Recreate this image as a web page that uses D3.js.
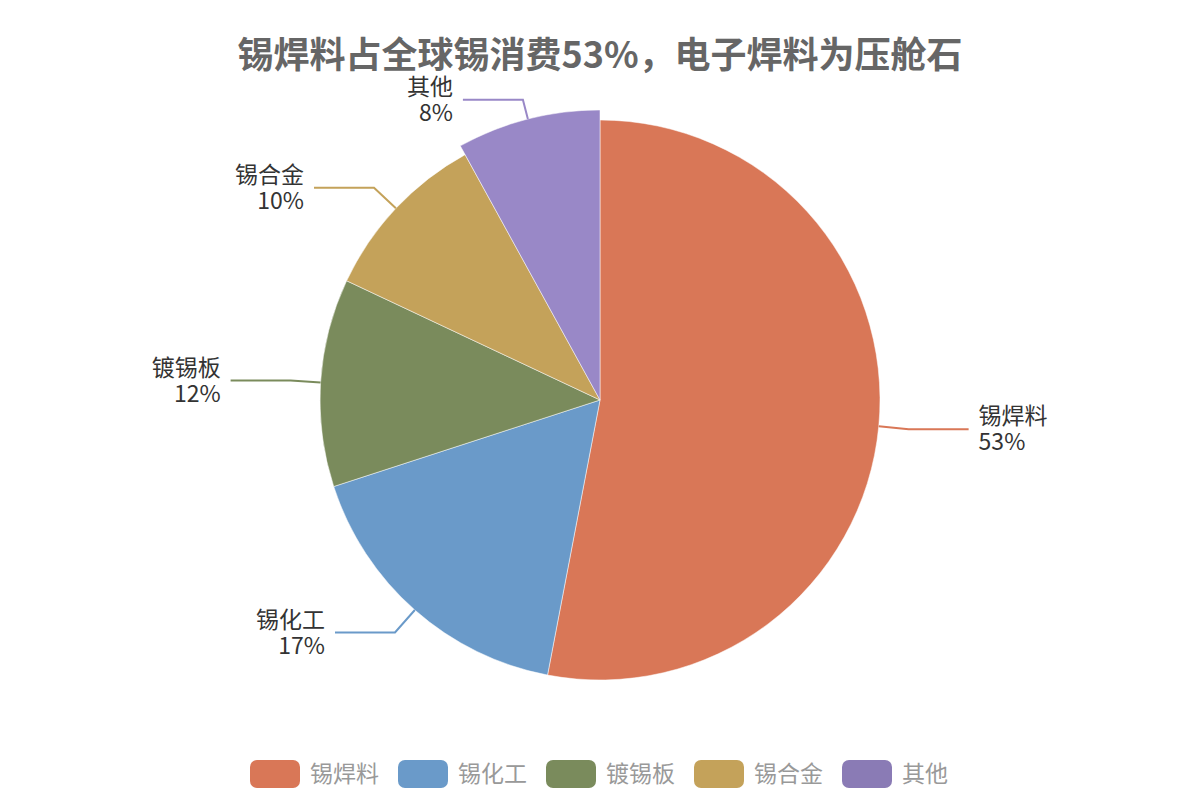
<!DOCTYPE html>
<html><head><meta charset="utf-8">
<script src="https://cdn.jsdelivr.net/npm/d3@7/dist/d3.min.js"></script>
<style>body{margin:0;background:#fff;}svg{display:block;font-family:"Microsoft YaHei","Noto Sans CJK SC",sans-serif;}</style>
</head><body>
<svg id="c" width="1200" height="800"></svg>
<script>
const title = "锡焊料占全球锡消费53%，电子焊料为压舱石";
const categories = ["锡焊料","锡化工","镀锡板","锡合金","其他"];
const values = [53,17,12,10,8];
const colors = ["#d97757","#6a9ac9","#7a8b5c","#c4a25a","#8a7bb5"];
const highlighted = "其他";
const highlightColor = "#9988c7";

const svg = d3.select("#c");
const cx = 600, cy = 400, R = 280;
const g = svg.append("g").attr("transform",`translate(${cx},${cy})`);

svg.append("text").attr("x",600).attr("y",68).attr("text-anchor","middle")
  .attr("font-size",36).attr("font-weight","bold").attr("fill","#666").text(title);

const data = categories.map((c,i)=>({name:c,value:values[i],color:colors[i]}));
const pie = d3.pie().value(d=>d.value).sort(null);
const arcs = pie(data);
const total = d3.sum(values);

g.selectAll("path.s").data(arcs).join("path").attr("class","s")
  .attr("d",d=>d3.arc().innerRadius(0).outerRadius(d.data.name===highlighted?R+10:R)(d))
  .attr("fill",d=>d.data.name===highlighted?highlightColor:d.data.color)
  .attr("stroke","#fff").attr("stroke-width",0.5);

arcs.forEach(d=>{
  const a = (d.startAngle+d.endAngle)/2;
  const r0 = d.data.name===highlighted?R+10:R;
  const sx = Math.sin(a), sy = -Math.cos(a);
  const p0 = [r0*sx, r0*sy];
  const p1 = [(R+30)*sx, (R+30)*sy];
  const dir = sx>=0?1:-1;
  const p2 = [p1[0]+dir*60, p1[1]];
  g.append("path").attr("d",d3.line()([p0,p1,p2])).attr("fill","none")
    .attr("stroke",d.data.name===highlighted?highlightColor:d.data.color).attr("stroke-width",2);
  const x = p2[0]+dir*10;
  const anchor = dir>0?"start":"end";
  g.append("text").attr("x",x).attr("y",p2[1]-5).attr("text-anchor",anchor)
    .attr("font-size",23).attr("fill","#333").text(d.data.name);
  g.append("text").attr("x",x).attr("y",p2[1]+21).attr("text-anchor",anchor)
    .attr("font-size",23).attr("fill","#333").text(Math.round(d.data.value/total*100)+"%");
});

const lg = svg.append("g");
data.forEach((d,i)=>{
  const x = 250 + i*148;
  lg.append("rect").attr("x",x).attr("y",760).attr("width",50).attr("height",28).attr("rx",7)
    .attr("fill",d.color);
  lg.append("text").attr("x",x+60).attr("y",782).attr("font-size",23).attr("fill","#999").text(d.name);
});
</script>
</body></html>
